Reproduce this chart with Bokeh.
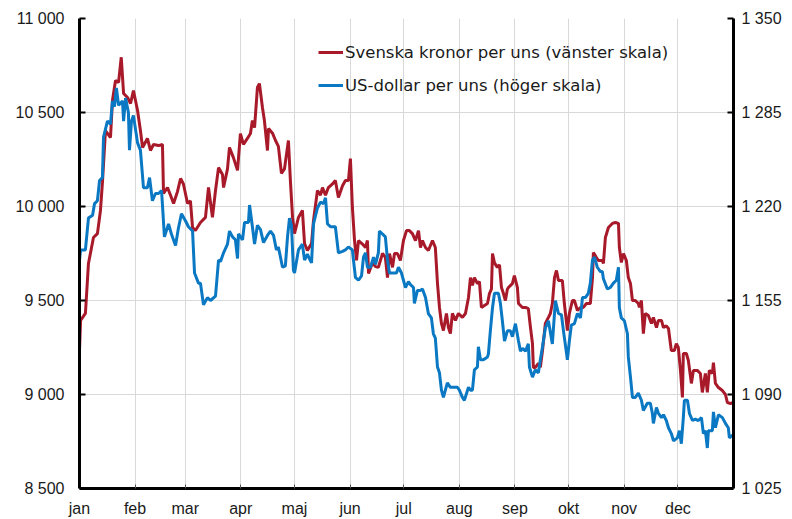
from bokeh.plotting import figure
from bokeh.models import Range1d, LinearAxis, FixedTicker, Legend, LegendItem
from bokeh.embed import file_html
from bokeh.resources import INLINE

# ---- data (2015, day of year) ----
months = ["jan", "feb", "mar", "apr", "maj", "jun", "jul", "aug", "sep", "okt", "nov", "dec"]
month_start_day = [0, 31, 59, 90, 120, 151, 181, 212, 243, 273, 304, 334]

left_ticks = [8500, 9000, 9500, 10000, 10500, 11000]
left_labels = ["8 500", "9 000", "9 500", "10 000", "10 500", "11 000"]
right_ticks = [1025, 1090, 1155, 1220, 1285, 1350]
right_labels = ["1 025", "1 090", "1 155", "1 220", "1 285", "1 350"]

sek_day = [0, 0.6, 3.3, 5.0, 7.8, 10.0, 11.7, 12.8, 14.5, 17.3, 18.4, 20.1, 21.8, 23.3, 24.6, 26.8, 28.5,
           30.1, 32.4, 34.0, 35.2, 37.9, 39.6, 41.3, 44.1, 46.3, 46.9, 49.1, 50.8, 52.5, 54.7, 56.4, 58.0,
           60.3, 61.9, 63.1, 64.7, 67.5, 70.3, 72.0, 74.2, 75.9, 77.6, 79.8, 80.4, 82.6, 83.7, 85.9, 88.2,
           89.8, 91.5, 93.7, 95.4, 96.5, 97.7, 99.3, 100.4, 102.1, 103.2, 104.9, 105.5, 107.7, 109.4, 111.0,
           112.7, 114.4, 116.6, 117.7, 118.9, 120.0, 122.2, 124.4, 125.6, 127.2, 129.5, 130.6, 132.8, 134.5,
           135.6, 137.3, 138.9, 141.2, 142.8, 144.5, 146.8, 148.4, 150.1, 151.2, 152.3, 153.5, 154.6, 155.7,
           157.9, 159.6, 160.7, 161.3, 163.5, 165.2, 166.8, 169.1, 170.7, 171.9, 173.0, 174.7, 175.8, 177.4,
           179.1, 180.8, 182.5, 184.1, 185.8, 187.5, 189.2, 190.3, 191.4, 193.1, 194.7, 197.0, 198.6, 199.8,
           200.9, 202.0, 203.1, 204.8, 205.9, 207.0, 208.1, 209.8, 211.5, 213.7, 215.4, 217.1, 218.2, 219.3,
           220.4, 222.1, 223.2, 224.3, 225.4, 227.7, 228.8, 229.9, 230.5, 231.6, 233.2, 234.4, 235.5, 236.6,
           237.7, 238.8, 239.4, 241.6, 242.7, 244.4, 245.0, 247.2, 248.9, 250.5, 251.7, 252.8, 253.3, 254.4,
           256.1, 257.2, 258.4, 260.0, 261.7, 262.8, 263.9, 265.1, 266.2, 267.3, 269.5, 270.6, 272.3, 273.4,
           275.1, 276.2, 277.9, 279.6, 281.2, 282.9, 284.0, 285.1, 286.3, 286.8, 288.5, 289.6, 291.8, 292.4,
           293.5, 295.2, 297.4, 299.1, 300.8, 301.3, 302.4, 303.6, 305.2, 306.3, 307.5, 308.6, 310.2, 311.9,
           312.5, 313.6, 314.7, 315.8, 317.5, 319.2, 320.3, 322.0, 323.1, 324.8, 325.9, 327.5, 328.7, 330.3,
           332.0, 333.1, 334.2, 335.4, 336.5, 337.0, 338.7, 339.8, 341.5, 342.6, 344.8, 346.5, 347.6, 349.3,
           350.4, 351.5, 353.2, 353.8, 354.9, 356.6, 358.8, 360.5, 361.6, 363.3, 364.4]
sek_val = [9234, 9394, 9431, 9697, 9835, 9856, 9979, 10128, 10404, 10367, 10564, 10670, 10660, 10794, 10601,
           10580, 10548, 10617, 10511, 10404, 10314, 10362, 10298, 10330, 10324, 10330, 10069, 10101, 10060,
           10016, 10080, 10149, 10120, 10016, 10030, 9888, 9872, 9915, 9942, 10101, 9942, 10085, 10207, 10170,
           10101, 10200, 10314, 10260, 10192, 10388, 10330, 10362, 10388, 10457, 10420, 10633, 10654, 10527,
           10457, 10298, 10415, 10390, 10351, 10320, 10176, 10200, 10351, 10138, 9942, 9856, 9942, 9979, 9803,
           9766, 9803, 9926, 10085, 10060, 10101, 10060, 10101, 10120, 10138, 10048, 10110, 10138, 10138,
           10255, 9995, 9819, 9713, 9819, 9800, 9782, 9819, 9644, 9700, 9680, 9676, 9750, 9730, 9622, 9750,
           9676, 9750, 9750, 9713, 9819, 9872, 9872, 9856, 9819, 9872, 9782, 9819, 9782, 9766, 9819, 9782,
           9590, 9463, 9378, 9340, 9431, 9356, 9324, 9431, 9394, 9431, 9410, 9431, 9516, 9622, 9580, 9622,
           9590, 9600, 9463, 9470, 9484, 9537, 9560, 9750, 9700, 9676, 9690, 9569, 9537, 9500, 9560, 9569,
           9590, 9633, 9569, 9484, 9463, 9463, 9457, 9356, 9271, 9144, 9144, 9165, 9144, 9234, 9378, 9410,
           9431, 9484, 9622, 9660, 9606, 9606, 9484, 9340, 9431, 9500, 9500, 9447, 9463, 9463, 9484, 9484,
           9484, 9622, 9755, 9729, 9713, 9713, 9697, 9835, 9888, 9910, 9915, 9910, 9782, 9702, 9750, 9713,
           9622, 9590, 9500, 9500, 9484, 9463, 9500, 9324, 9431, 9420, 9378, 9410, 9356, 9394, 9394, 9356,
           9365, 9351, 9234, 9234, 9271, 9250, 9128, 8984, 9218, 9218, 9181, 9059, 9128, 9128, 9112, 9011,
           9112, 9011, 9128, 9112, 9170, 9059, 9037, 9021, 9000, 8957, 8952, 8957]

usd_day = [0, 0.6, 3.3, 5.0, 7.3, 8.4, 10.0, 11.2, 12.8, 13.4, 15.6, 17.3, 18.4, 19.5, 20.6, 21.8, 24.0, 24.6,
           25.7, 27.3, 27.9, 29.0, 30.1, 32.4, 34.0, 35.7, 37.9, 39.1, 40.7, 42.4, 44.1, 45.8, 47.4, 49.7,
           51.3, 53.6, 55.2, 56.9, 59.2, 60.8, 63.1, 64.2, 66.4, 67.5, 69.2, 71.4, 73.1, 75.9, 77.6, 78.7,
           80.4, 82.6, 83.7, 85.4, 87.0, 88.2, 88.7, 91.0, 92.1, 94.3, 94.9, 96.5, 97.7, 99.3, 101.0, 102.7,
           104.9, 106.6, 108.3, 109.9, 111.0, 113.3, 114.9, 116.1, 117.2, 118.3, 119.4, 120.0, 122.2, 124.4,
           125.6, 127.2, 128.3, 129.5, 130.6, 132.8, 134.5, 136.2, 137.3, 138.4, 140.1, 141.7, 142.8, 144.5,
           146.8, 148.4, 150.1, 152.3, 152.9, 154.0, 155.7, 157.4, 158.5, 159.6, 160.7, 162.4, 164.1, 165.2,
           166.8, 167.4, 169.1, 170.7, 171.9, 173.0, 174.7, 176.9, 178.0, 179.7, 180.8, 181.9, 183.6, 184.7,
           186.4, 186.9, 188.6, 190.3, 191.4, 193.1, 194.7, 196.4, 197.5, 198.6, 199.8, 200.9, 202.0, 203.1,
           205.3, 207.0, 208.7, 210.9, 212.0, 213.7, 214.8, 217.1, 218.2, 219.3, 220.4, 222.1, 222.6, 223.8,
           225.4, 227.7, 228.2, 229.3, 230.5, 231.6, 233.8, 234.9, 236.0, 237.2, 238.8, 240.5, 241.6, 243.3,
           245.0, 246.1, 247.2, 248.9, 250.5, 251.1, 252.8, 254.4, 256.1, 257.2, 258.4, 260.0, 261.7, 263.9,
           265.6, 267.3, 269.0, 270.1, 272.3, 273.4, 274.5, 276.2, 277.9, 279.6, 280.7, 282.3, 284.0, 285.1,
           286.3, 287.4, 289.0, 290.7, 291.8, 292.4, 294.6, 296.3, 298.0, 299.6, 300.8, 301.3, 302.4, 304.1,
           305.8, 306.3, 307.5, 308.6, 310.2, 311.9, 313.6, 314.7, 316.9, 318.6, 319.7, 320.3, 322.0, 323.1,
           324.8, 325.9, 327.5, 328.7, 330.3, 331.5, 333.7, 334.8, 335.9, 337.0, 337.6, 339.3, 340.4, 342.1,
           343.7, 345.4, 347.1, 348.2, 349.3, 350.4, 351.0, 353.2, 353.8, 354.9, 356.6, 358.8, 360.5, 362.1,
           362.7, 364.4]
usd_val = [1183, 1190, 1190, 1212, 1214, 1222, 1224, 1238, 1240, 1268, 1279, 1277, 1293, 1289, 1302, 1290, 1293,
           1279, 1295, 1285, 1259, 1279, 1283, 1264, 1259, 1233, 1233, 1240, 1224, 1229, 1229, 1231, 1199, 1208,
           1201, 1193, 1205, 1215, 1210, 1206, 1203, 1174, 1167, 1167, 1152, 1157, 1155, 1158, 1183, 1182, 1188,
           1194, 1203, 1199, 1197, 1184, 1201, 1197, 1209, 1209, 1221, 1206, 1194, 1207, 1204, 1195, 1200, 1203,
           1200, 1190, 1192, 1178, 1179, 1199, 1212, 1207, 1176, 1174, 1190, 1194, 1183, 1187, 1184, 1181, 1208,
           1219, 1223, 1222, 1226, 1208, 1206, 1206, 1206, 1188, 1189, 1190, 1192, 1190, 1183, 1171, 1169, 1172,
           1185, 1188, 1178, 1178, 1185, 1180, 1188, 1203, 1201, 1199, 1183, 1174, 1174, 1174, 1178, 1174, 1169,
           1164, 1168, 1166, 1164, 1153, 1162, 1162, 1163, 1157, 1146, 1143, 1132, 1129, 1109, 1105, 1093, 1088,
           1098, 1095, 1095, 1095, 1093, 1088, 1086, 1095, 1093, 1093, 1107, 1109, 1123, 1114, 1114, 1116, 1118,
           1134, 1150, 1160, 1160, 1153, 1141, 1127, 1134, 1134, 1130, 1139, 1127, 1120, 1122, 1120, 1125, 1109,
           1102, 1107, 1105, 1114, 1123, 1136, 1141, 1125, 1155, 1146, 1145, 1134, 1114, 1127, 1138, 1139, 1146,
           1143, 1157, 1157, 1160, 1167, 1183, 1185, 1178, 1175, 1175, 1170, 1163, 1164, 1167, 1169, 1178, 1150,
           1143, 1141, 1132, 1116, 1102, 1088, 1088, 1091, 1086, 1079, 1084, 1084, 1077, 1070, 1081, 1077, 1074,
           1076, 1072, 1067, 1063, 1058, 1060, 1065, 1056, 1074, 1086, 1086, 1077, 1072, 1073, 1072, 1074, 1063,
           1065, 1053, 1065, 1065, 1078, 1067, 1076, 1074, 1070, 1067, 1060, 1062]

sek_label = "Svenska kronor per uns (vänster skala)"
usd_label = "US-dollar per uns (höger skala)"

RED = "#A8192A"
BLUE = "#0A78C2"
GRID = "#d9d9d9"
FONT = "Liberation Sans"

p = figure(width=784, height=519, output_backend="svg", toolbar_location=None,
           x_range=Range1d(0, 365), y_range=Range1d(8500, 11000),
           min_border_left=79, min_border_right=51, min_border_top=18, min_border_bottom=31)
p.extra_y_ranges = {"usd": Range1d(1025, 1350)}
p.outline_line_color = None
p.background_fill_color = "white"

r_sek = p.line(sek_day, sek_val, color=RED, line_width=3)
r_usd = p.line(usd_day, usd_val, color=BLUE, line_width=3, y_range_name="usd")

# grid
p.xgrid.ticker = FixedTicker(ticks=month_start_day)
p.ygrid.ticker = FixedTicker(ticks=left_ticks)
p.xgrid.grid_line_color = GRID
p.ygrid.grid_line_color = GRID
p.xgrid.grid_line_width = 1
p.ygrid.grid_line_width = 1

def style_axis(ax):
    ax.axis_line_color = "black"
    ax.axis_line_width = 3
    ax.major_tick_in = 6
    ax.major_tick_out = 0
    ax.major_tick_line_width = 2
    ax.major_tick_line_color = "black"
    ax.minor_tick_line_color = None
    ax.major_label_text_font = FONT
    ax.major_label_text_font_size = "16px"
    ax.major_label_text_color = "#1a1a1a"

# x axis
xax = p.xaxis[0]
xax.ticker = FixedTicker(ticks=month_start_day)
xax.major_label_overrides = {d: m for d, m in zip(month_start_day, months)}
style_axis(xax)
xax.major_tick_line_width = 1
xax.major_tick_line_color = "#555555"
xax.major_tick_in = 4
xax.major_label_standoff = 11

# left axis
yax = p.yaxis[0]
yax.ticker = FixedTicker(ticks=left_ticks)
yax.major_label_overrides = {t: l for t, l in zip(left_ticks, left_labels)}
style_axis(yax)
yax.major_label_standoff = 15

# right axis
rax = LinearAxis(y_range_name="usd", ticker=FixedTicker(ticks=right_ticks))
rax.major_label_overrides = {t: l for t, l in zip(right_ticks, right_labels)}
style_axis(rax)
rax.major_label_standoff = 8
p.add_layout(rax, "right")

legend = Legend(items=[LegendItem(label=sek_label, renderers=[r_sek]),
                       LegendItem(label=usd_label, renderers=[r_usd])],
                location=(239, 393))
legend.border_line_color = None
legend.background_fill_alpha = 0
legend.padding = 0
legend.margin = 0
legend.spacing = 13
legend.glyph_width = 25
legend.glyph_height = 20
legend.label_standoff = 2
legend.label_text_font = "DejaVu Sans"
legend.label_text_font_size = "16.5px"
legend.label_text_color = "#1a1a1a"
p.add_layout(legend)

open("out.html", "w").write(file_html(p, INLINE))
